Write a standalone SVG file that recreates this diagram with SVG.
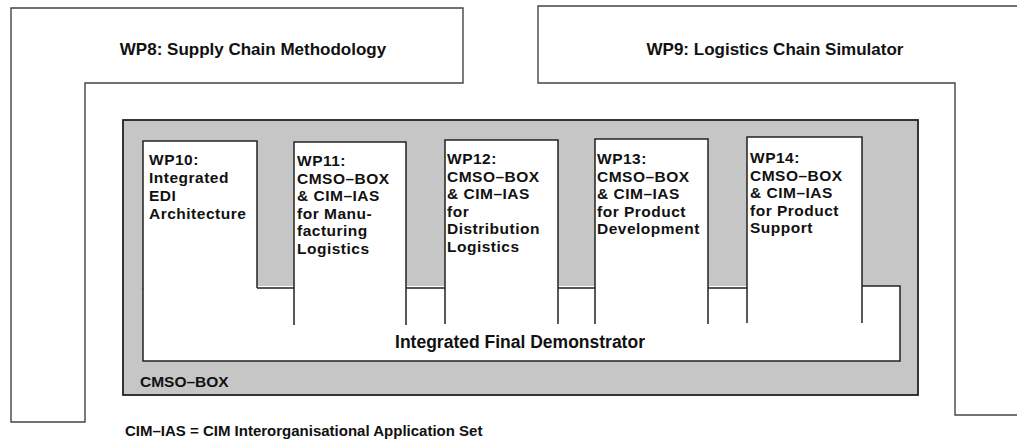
<svg xmlns="http://www.w3.org/2000/svg" width="1017" height="441" viewBox="0 0 1017 441">
<style>
text{font-family:"Liberation Sans",Arial,sans-serif;font-weight:bold;fill:#111}
.wp{font-size:15.5px;letter-spacing:0.5px}
.outline{fill:#fff;stroke:#444;stroke-width:1.4}
.edge{fill:none;stroke:#222;stroke-width:1.5}
.box{fill:#fff;stroke:none}
</style>
<rect width="1017" height="441" fill="#fff"/>
<g id="wp8">
<path class="outline" d="M11,8 H463 V83 H85 V422 H11 Z"/>
<text x="253" y="55" font-size="17" text-anchor="middle">WP8: Supply Chain Methodology</text>
</g>
<g id="wp9">
<path class="outline" d="M538,6 H1020 V415 H955 V83 H538 Z"/>
<text x="775" y="55" font-size="17" text-anchor="middle">WP9: Logistics Chain Simulator</text>
</g>
<g id="cmso-box">
<rect x="123" y="120" width="795" height="275" fill="#c6c6c6" stroke="#222" stroke-width="1.8"/>
<text x="140" y="387" font-size="15.5" fill="#333">CMSO–BOX</text>
</g>
<g id="demonstrator">
<rect class="box" x="143" y="286" width="757" height="75"/>
<path class="edge" d="M143,288 V361 H900 V286 H862 M257,288 H294 M406,288 H445 M558,288 H595 M708,288 H747"/>
<text x="520" y="348" font-size="17.5" text-anchor="middle">Integrated Final Demonstrator</text>
</g>
<g id="wp10">
<rect class="box" x="143" y="141" width="114" height="148"/>
<path class="edge" d="M143,289 V141 H257 V288"/>
<text class="wp" x="149" y="165">WP10:<tspan x="149" dy="18">Integrated</tspan><tspan x="149" dy="18">EDI</tspan><tspan x="149" dy="18">Architecture</tspan></text>
</g>
<g id="wp11">
<rect class="box" x="294" y="142" width="112" height="183"/>
<path class="edge" d="M294,325 V142 H406 V325"/>
<text class="wp" x="297" y="166">WP11:<tspan x="297" dy="17.5">CMSO–BOX</tspan><tspan x="297" dy="17.5">&amp; CIM–IAS</tspan><tspan x="297" dy="17.5">for Manu-</tspan><tspan x="297" dy="17.5">facturing</tspan><tspan x="297" dy="17.5">Logistics</tspan></text>
</g>
<g id="wp12">
<rect class="box" x="445" y="140" width="113" height="184"/>
<path class="edge" d="M445,324 V140 H558 V324"/>
<text class="wp" x="447" y="164">WP12:<tspan x="447" dy="17.5">CMSO–BOX</tspan><tspan x="447" dy="17.5">&amp; CIM–IAS</tspan><tspan x="447" dy="17.5">for</tspan><tspan x="447" dy="17.5">Distribution</tspan><tspan x="447" dy="17.5">Logistics</tspan></text>
</g>
<g id="wp13">
<rect class="box" x="595" y="139" width="113" height="185"/>
<path class="edge" d="M595,324 V139 H708 V324"/>
<text class="wp" x="597" y="164">WP13:<tspan x="597" dy="17.5">CMSO–BOX</tspan><tspan x="597" dy="17.5">&amp; CIM–IAS</tspan><tspan x="597" dy="17.5">for Product</tspan><tspan x="597" dy="17.5">Development</tspan></text>
</g>
<g id="wp14">
<rect class="box" x="747" y="137" width="115" height="186"/>
<path class="edge" d="M747,323 V137 H862 V323"/>
<text class="wp" x="750" y="163">WP14:<tspan x="750" dy="17.5">CMSO–BOX</tspan><tspan x="750" dy="17.5">&amp; CIM–IAS</tspan><tspan x="750" dy="17.5">for Product</tspan><tspan x="750" dy="17.5">Support</tspan></text>
</g>
<g id="connectors"></g>
<text x="125" y="436" font-size="15">CIM–IAS = CIM Interorganisational Application Set</text>
</svg>
